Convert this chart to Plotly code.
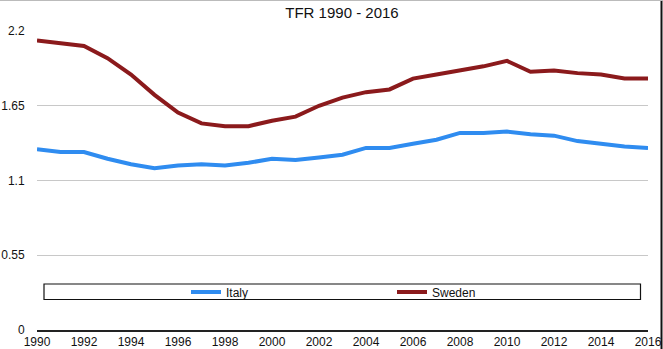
import plotly.graph_objects as go

years = list(range(1990, 2017))
italy = [1.33, 1.31, 1.31, 1.26, 1.22, 1.19, 1.21, 1.22, 1.21, 1.23, 1.26, 1.25, 1.27,
         1.29, 1.34, 1.34, 1.37, 1.40, 1.45, 1.45, 1.46, 1.44, 1.43, 1.39, 1.37, 1.35, 1.34]
sweden = [2.13, 2.11, 2.09, 2.00, 1.88, 1.73, 1.60, 1.52, 1.50, 1.50, 1.54, 1.57, 1.65,
          1.71, 1.75, 1.77, 1.85, 1.88, 1.91, 1.94, 1.98, 1.90, 1.91, 1.89, 1.88, 1.85, 1.85]
y_ticks = [0, 0.55, 1.1, 1.65, 2.2]
x_ticks = list(range(1990, 2017, 2))
title = "TFR 1990 - 2016"

FONT = "Liberation Sans Narrow, Arial Narrow, Liberation Sans, sans-serif"

W, H = 663, 349
L, R, T, B = 37, 15, 31, 19
pw, ph = W - L - R, H - T - B

def px(x):
    return (x - L) / pw

def py(y):
    return (H - B - y) / ph

fig = go.Figure()
fig.add_trace(go.Scatter(x=years, y=italy, name="Italy", mode="lines",
                         line=dict(color="#2f8cf0", width=4)))
fig.add_trace(go.Scatter(x=years, y=sweden, name="Sweden", mode="lines",
                         line=dict(color="#8b1a1c", width=4)))

fig.update_layout(
    width=W, height=H,
    margin=dict(l=L, r=R, t=T, b=B, pad=0, autoexpand=False),
    paper_bgcolor="white", plot_bgcolor="white",
    font=dict(family=FONT, size=12, color="#222"),
    title=dict(text=title, x=342 / W, xanchor="center",
               y=1 - 12.5 / H, yanchor="middle",
               font=dict(family=FONT, size=15, color="#111")),
    showlegend=True,
    legend=dict(orientation="h", x=px(186), xanchor="left", y=py(292), yanchor="middle",
                bgcolor="rgba(0,0,0,0)", borderwidth=0, entrywidth=161,
                font=dict(family=FONT, size=12, color="#111")),
    shapes=[
        dict(type="rect", xref="paper", yref="paper", x0=px(44), x1=px(640.5),
             y0=py(299.5), y1=py(284), line=dict(color="#111", width=1.2),
             fillcolor="white", layer="below"),
        dict(type="line", xref="paper", yref="paper", x0=px(661.5), x1=px(661.5),
             y0=py(0), y1=py(349), line=dict(color="#111", width=2)),
        dict(type="line", xref="paper", yref="paper", x0=px(0), x1=px(663),
             y0=py(0.5), y1=py(0.5), line=dict(color="#bbb", width=1)),
    ],
)
fig.update_xaxes(range=[1990, 2016], tickvals=x_ticks, ticktext=[str(v) for v in x_ticks],
                 automargin=False,
                 showgrid=False, zeroline=False, showline=True, linecolor="#222", linewidth=1.5,
                 ticks="", ticklabelstandoff=0,
                 tickfont=dict(family=FONT, size=12, color="#111"))
fig.update_yaxes(range=[0, 2.2], tickvals=y_ticks, ticktext=["0", "0.55", "1.1", "1.65", "2.2"],
                 automargin=False,
                 showgrid=True, gridcolor="#c8c8c8", gridwidth=1, zeroline=False,
                 showline=False, ticks="outside", ticklen=9, tickcolor="rgba(0,0,0,0)",
                 tickfont=dict(family=FONT, size=12, color="#111"))

fig.write_html("out.html")
